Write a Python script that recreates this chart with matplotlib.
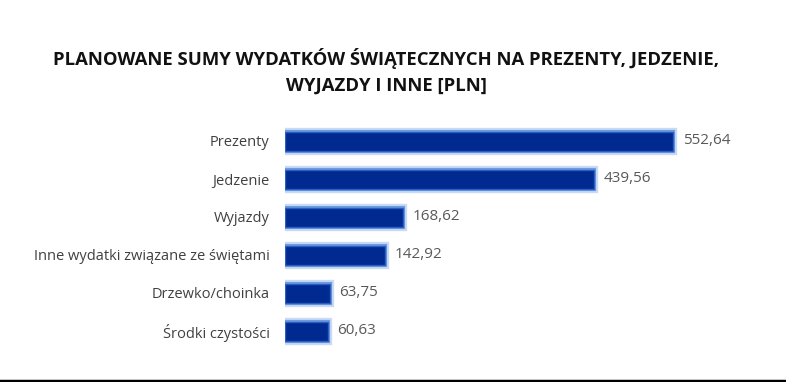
import matplotlib
matplotlib.use("Agg")
import matplotlib.pyplot as plt

plt.rcParams['font.family'] = ['Open Sans', 'DejaVu Sans']

categories = ["Prezenty", "Jedzenie", "Wyjazdy", "Inne wydatki związane ze świętami",
              "Drzewko/choinka", "Środki czystości"]
values = [552.64, 439.56, 168.62, 142.92, 63.75, 60.63]
value_labels = ["552,64", "439,56", "168,62", "142,92", "63,75", "60,63"]
title = "PLANOWANE SUMY WYDATKÓW ŚWIĄTECZNYCH NA PREZENTY, JEDZENIE,\nWYJAZDY I INNE [PLN]"

fig = plt.figure(figsize=(7.86, 3.82), dpi=100)
fig.patch.set_facecolor('white')
ax = fig.add_axes([285/786, 1-350/382, 475/786, 228/382])

y = list(range(len(categories)))
# soft glow around bars
ax.barh(y, values, height=0.5, color='#002a8f', edgecolor='#c3d6f2', linewidth=6, alpha=0.9)
ax.barh(y, values, height=0.5, color='#002a8f', edgecolor='#6d9be0', linewidth=3)
ax.barh(y, values, height=0.5, color='#002a8f', edgecolor='#2a5ec4', linewidth=1)

ax.set_xlim(0, 676.6)
ax.set_ylim(5.5, -0.5)
for s in ax.spines.values():
    s.set_visible(False)
ax.set_xticks([])
ax.set_yticks(y)
ax.set_yticklabels(categories, fontsize=10.5, color='#404040')
ax.tick_params(axis='y', length=0, pad=11)

for yi, v, lab in zip(y, values, value_labels):
    ax.annotate(lab, (v, yi), xytext=(7, 0), textcoords='offset points',
                va='center', ha='left', fontsize=11, color='#595959')

fig.text(386/786, 1-71.5/382, title, ha='center', va='center', fontsize=13.3,
         fontweight='bold', color='#111111', linespacing=1.6)

# bottom black border line
fig.add_artist(plt.Line2D([0, 1], [1.5/382, 1.5/382], color='black', lw=2.5,
                          transform=fig.transFigure))

fig.savefig("out.png", dpi=100)
